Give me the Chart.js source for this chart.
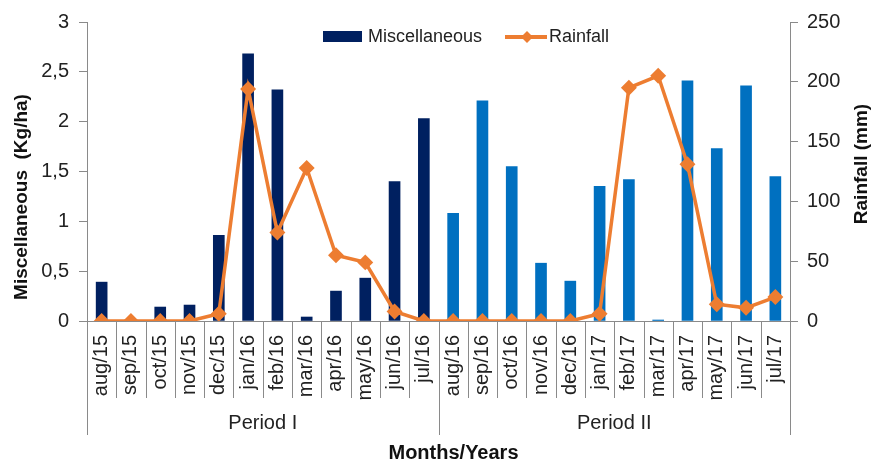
<!DOCTYPE html>
<html>
<head>
<meta charset="utf-8">
<script src="https://cdn.jsdelivr.net/npm/chart.js@4/dist/chart.umd.min.js"></script>
<style>
html,body{margin:0;padding:0;background:#fff;}
#wrap{width:875px;height:462px;position:relative;}
</style>
</head>
<body>
<div id="wrap"><canvas id="c" width="875" height="462"></canvas></div>
<script>
const categories = ['aug/15','sep/15','oct/15','nov/15','dec/15','jan/16','feb/16','mar/16','apr/16','may/16','jun/16','jul/16',
                    'aug/16','sep/16','oct/16','nov/16','dec/16','jan/17','feb/17','mar/17','apr/17','may/17','jun/17','jul/17'];
const periods = ['Period I','Period II'];
const periodSize = 12;
const miscellaneous = [0.39,0,0.14,0.16,0.86,2.68,2.32,0.04,0.30,0.43,1.40,2.03,
                       1.08,2.21,1.55,0.58,0.40,1.35,1.42,0.01,2.41,1.73,2.36,1.45];
const rainfall = [0,0,0,0,6,194,74,128,55,49,8,0,
                  0,0,0,0,0,6,195,205,131,14,11,20];
const seriesNames = ['Miscellaneous','Rainfall'];
const axisTitles = {left:'Miscellaneous  (Kg/ha)', right:'Rainfall (mm)', bottom:'Months/Years'};

const NAVY = '#002060', BLUE = '#0070C0', ORANGE = '#ED7D31', AXIS = '#8a8a8a';
const FONT = "'Liberation Sans', Arial, sans-serif";

const barColors = categories.map((_, i) => i < periodSize ? NAVY : BLUE);

const decoPlugin = {
  id: 'deco',
  afterDraw(chart) {
    const ctx = chart.ctx;
    const xs = chart.scales.x;
    const area = chart.chartArea;
    ctx.save();
    // category separators
    ctx.strokeStyle = AXIS;
    ctx.lineWidth = 1;
    for (let i = 0; i <= categories.length; i++) {
      const x = Math.round(xs.getPixelForValue(i - 0.5)) + 0.5;
      const long = (i % periodSize === 0);
      ctx.beginPath();
      ctx.moveTo(x, area.bottom);
      ctx.lineTo(x, long ? area.bottom + 114 : area.bottom + 77);
      ctx.stroke();
    }
    // period labels
    ctx.fillStyle = '#222';
    ctx.font = '20px ' + FONT;
    ctx.textAlign = 'center';
    ctx.textBaseline = 'middle';
    periods.forEach((p, k) => {
      const x0 = xs.getPixelForValue(k * periodSize - 0.5);
      const x1 = xs.getPixelForValue((k + 1) * periodSize - 0.5);
      ctx.fillText(p, (x0 + x1) / 2, area.bottom + 102);
    });
    // axis titles
    ctx.font = 'bold 20px ' + FONT;
    ctx.fillStyle = '#111';
    ctx.fillText(axisTitles.bottom, (area.left + area.right) / 2 + 15, 453);
    ctx.save();
    ctx.translate(22, 197);
    ctx.rotate(-Math.PI / 2);
    ctx.font = 'bold 19px ' + FONT;
    ctx.fillText(axisTitles.left, 0, 0);
    ctx.restore();
    ctx.save();
    ctx.translate(862, 164);
    ctx.rotate(-Math.PI / 2);
    ctx.font = 'bold 19px ' + FONT;
    ctx.fillText(axisTitles.right, 0, 0);
    ctx.restore();
    // legend
    ctx.font = '18px ' + FONT;
    ctx.textAlign = 'left';
    ctx.fillStyle = '#222';
    ctx.fillStyle = NAVY;
    ctx.fillRect(323, 31, 39, 11);
    ctx.fillStyle = '#222';
    ctx.fillText(seriesNames[0], 368, 37);
    ctx.strokeStyle = ORANGE;
    ctx.lineWidth = 4;
    ctx.beginPath();
    ctx.moveTo(505, 37); ctx.lineTo(547, 37);
    ctx.stroke();
    ctx.fillStyle = ORANGE;
    ctx.beginPath();
    ctx.moveTo(527, 31); ctx.lineTo(533, 37); ctx.lineTo(527, 43); ctx.lineTo(521, 37);
    ctx.closePath(); ctx.fill();
    ctx.fillStyle = '#222';
    ctx.fillText(seriesNames[1], 549, 37);
    ctx.restore();
  }
};

new Chart(document.getElementById('c'), {
  data: {
    labels: categories,
    datasets: [
      {
        type: 'line',
        label: seriesNames[1],
        data: rainfall,
        yAxisID: 'y1',
        borderColor: ORANGE,
        backgroundColor: ORANGE,
        borderWidth: 3.5,
        tension: 0,
        pointStyle: 'rectRot',
        pointRadius: 5.5,
        pointBackgroundColor: ORANGE,
        pointBorderColor: ORANGE,
        order: 0
      },
      {
        type: 'bar',
        label: seriesNames[0],
        data: miscellaneous,
        yAxisID: 'y',
        backgroundColor: barColors,
        barThickness: 11,
        order: 1
      }
    ]
  },
  options: {
    responsive: false,
    animation: false,
    layout: { padding: { top: 21, left: 0, right: 0, bottom: 0 } },
    plugins: { legend: { display: false }, tooltip: { enabled: false } },
    scales: {
      x: {
        offset: true,
        grid: { display: false },
        border: { display: true, color: AXIS, width: 1 },
        ticks: {
          minRotation: 90, maxRotation: 90, autoSkip: false,
          padding: 6, color: '#222',
          font: { family: FONT, size: 20 }
        },
        afterFit(s) { s.height = 141; }
      },
      y: {
        position: 'left',
        min: 0, max: 3,
        ticks: {
          stepSize: 0.5, padding: 10, color: '#222',
          font: { family: FONT, size: 20 },
          callback: v => String(v).replace('.', ',')
        },
        grid: { drawOnChartArea: false, tickLength: 8, color: AXIS },
        border: { display: true, color: AXIS, width: 1 },
        afterFit(s) { s.width = 87; }
      },
      y1: {
        position: 'right',
        min: 0, max: 250,
        ticks: {
          stepSize: 50, padding: 9, color: '#222',
          font: { family: FONT, size: 20 }
        },
        grid: { drawOnChartArea: false, tickLength: 8, color: AXIS },
        border: { display: true, color: AXIS, width: 1 },
        afterFit(s) { s.width = 85; }
      }
    }
  },
  plugins: [decoPlugin]
});
</script>
</body>
</html>
